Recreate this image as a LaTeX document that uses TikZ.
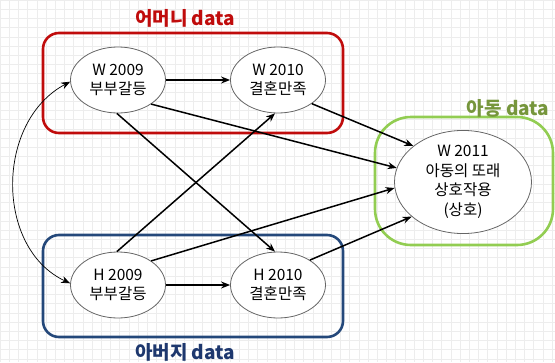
\documentclass[tikz,border=0pt]{standalone}
\usepackage{fontspec}
\newfontfamily\kr{Noto Sans CJK KR}
\usetikzlibrary{shapes.geometric,arrows.meta}
\definecolor{momred}{RGB}{192,12,12}
\definecolor{dadblue}{RGB}{36,72,122}
\definecolor{kidgreen}{RGB}{146,205,82}
\definecolor{kidtitle}{RGB}{118,150,60}
\definecolor{dadtitle}{RGB}{30,56,110}
\tikzset{
  var/.style={ellipse,draw=black!60,line width=0.8pt,fill=white,inner sep=0pt,
    minimum width=95pt,minimum height=66pt,align=center,
    font=\kr\fontsize{15.5}{19.5}\selectfont},
  grp/.style={rounded corners=16pt,line width=2.6pt},
  ttl/.style={font=\kr\bfseries\fontsize{19}{21}\selectfont},
  arr/.style={line width=1.5pt,-{Stealth[length=9pt,width=7pt]}},
}
\begin{document}
\begin{tikzpicture}[x=1pt,y=-1pt]
\useasboundingbox (0,0) rectangle (555,362);
\draw[black!7,line width=0.5pt] (0,0) grid[step=9.2pt] (555,362);
% group boxes
\draw[grp,momred] (43,33) rectangle (343,133);
\draw[grp,dadblue] (43,235) rectangle (343,337);
\draw[grp,kidgreen,rounded corners=36pt] (375,117) rectangle (553,245);
% titles
\node[ttl,text=momred] (tm) at (185,18) {어머니 data};
\node[ttl,text=dadtitle] (td) at (185,352) {아버지 data};
\node[ttl,text=kidtitle] (tk) at (508,108) {아동 data};
% variables
\node[var] (w09) at (118,80) {W 2009\\부부갈등};
\node[var] (w10) at (278,80) {W 2010\\결혼만족};
\node[var] (h09) at (118,285) {H 2009\\부부갈등};
\node[var] (h10) at (278,285) {H 2010\\결혼만족};
\node[var,minimum width=137pt,minimum height=93pt] (w11) at (463,182)
  {W 2011\\아동의 또래\\상호작용\\(상호)};
% arrows
\draw[arr] (w09) -- (w10);
\draw[arr] (h09) -- (h10);
\draw[arr] (w09.-92) -- (h10.95);
\draw[arr] (h09.92) -- (w10.-95);
\draw[arr] (w09.-36) -- (w11.168);
\draw[arr] (w10.-35) -- (w11.144);
\draw[arr] (h09.36) -- (w11.185);
\draw[arr] (h10.38) -- (w11.214);
\draw[line width=0.7pt,{Stealth[length=9pt,width=7pt]}-{Stealth[length=9pt,width=7pt]}]
  (w09.182) .. controls +(-75,40) and +(-75,-35) .. (h09.178);
\end{tikzpicture}
\end{document}
